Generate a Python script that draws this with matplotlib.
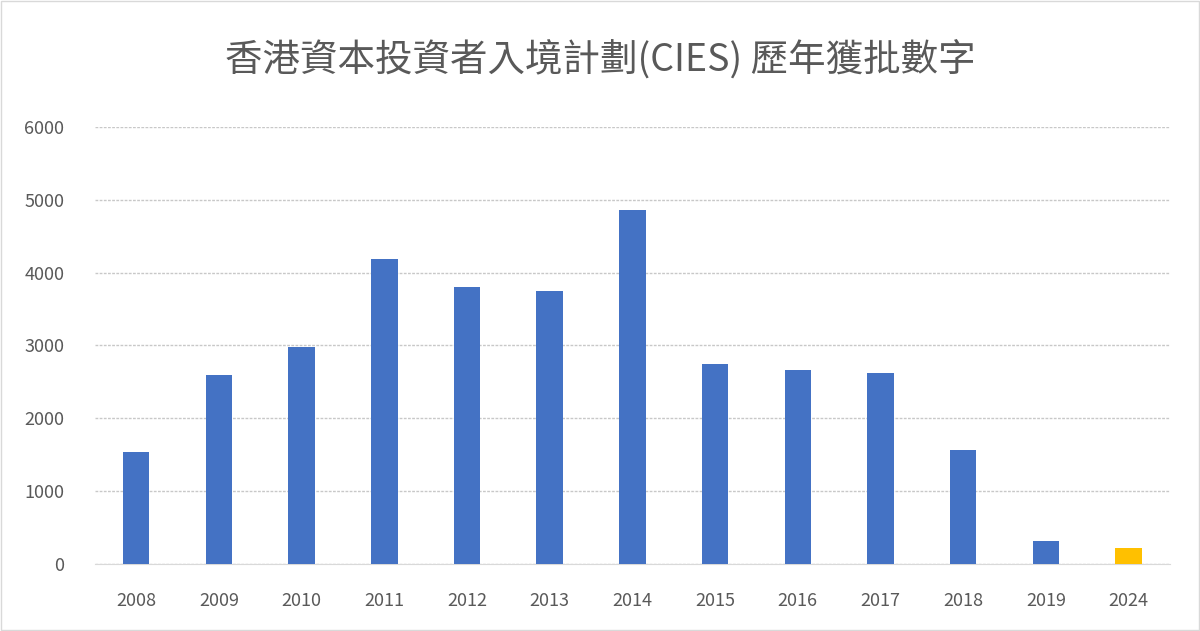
import matplotlib
matplotlib.use("Agg")
import matplotlib.pyplot as plt
from matplotlib.patches import Rectangle

years = ["2008","2009","2010","2011","2012","2013","2014","2015","2016","2017","2018","2019","2024"]
values = [1540, 2600, 2980, 4190, 3800, 3750, 4860, 2750, 2660, 2620, 1570, 320, 220]
colors = ["#4472C4"]*12 + ["#FFC000"]

plt.rcParams['font.family'] = ['Noto Sans CJK TC', 'DejaVu Sans']
fig = plt.figure(figsize=(12, 6.31), dpi=100)
ax = fig.add_axes([0.079, 0.106, 0.896, 0.693])
x = range(len(years))
ax.bar(x, values, width=0.32, color=colors, zorder=3)
ax.set_xlim(-0.5, len(years)-0.5)
ax.set_ylim(0, 6000)
ax.set_yticks(range(0, 6001, 1000))
ax.set_xticks(list(x))
ax.set_xticklabels(years)
ax.grid(axis='y', color='#C8C8C8', linewidth=1, linestyle=(0, (2, 1)), zorder=0)
for s in ['top','right','left']:
    ax.spines[s].set_visible(False)
ax.spines['bottom'].set_color('#D9D9D9')
ax.tick_params(axis='y', length=0, labelsize=13, colors='#595959', pad=22)
ax.tick_params(axis='x', length=0, labelsize=13, colors='#595959', pad=20)
fig.text(0.5, 0.905, "香港資本投資者入境計劃(CIES) 歷年獲批數字", ha='center', va='center',
         fontsize=27, color='#595959')
fig.patches.append(Rectangle((0.001, 0.001), 0.998, 0.998, transform=fig.transFigure,
                             fill=False, edgecolor='#D9D9D9', linewidth=1))
fig.savefig("out.png", dpi=100)
